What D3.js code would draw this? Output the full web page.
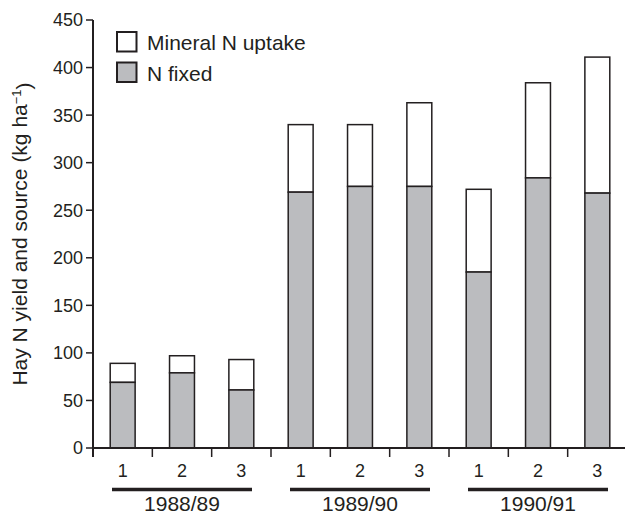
<!DOCTYPE html>
<html lang="en">
<head>
<meta charset="utf-8">
<title>Hay N yield and source</title>
<script src="https://d3js.org/d3.v7.min.js"></script>
<style>
body { margin: 0; background: #fff; }
svg { display: block; font-family: "Liberation Sans", Arial, Helvetica, sans-serif; }
.tick-lbl { font-size: 18px; fill: #231f20; }
.big { font-size: 21px; fill: #231f20; }
</style>
</head>
<body>
<div id="chart"></div>
<script>
var years = ["1988/89", "1989/90", "1990/91"];
var cuts = ["1", "2", "3"];
var nFixed = [69, 79, 61, 269, 275, 275, 185, 284, 268];
var mineral = [20, 18, 32, 71, 65, 88, 87, 100, 143];
var yTicks = [0, 50, 100, 150, 200, 250, 300, 350, 400, 450];

var width = 625, height = 515;
var ink = "#231f20", grey = "#bbbcbf";

// one entry per bar: year + cut
var bars = [];
years.forEach(function(yr, g){
    cuts.forEach(function(c, k){
        var i = g*3 + k;
        bars.push({i:i, year:yr, cut:c, fixed:nFixed[i], total:nFixed[i]+mineral[i]});
    });
});

var svg = d3.select("#chart").append("svg").attr("width", width).attr("height", height);

var x = d3.scaleBand().domain(bars.map(function(d){ return d.i; }))
    .range([93, 627]).paddingInner(0.58).paddingOuter(0.29);
var y = d3.scaleLinear().domain([0, 450]).range([448, 20]);

// stacked bars
var g = svg.append("g");
g.selectAll(".top").data(bars).enter().append("rect")
    .attr("x", function(d){ return x(d.i); })
    .attr("width", x.bandwidth())
    .attr("y", function(d){ return y(d.total); })
    .attr("height", function(d){ return y(d.fixed) - y(d.total); })
    .attr("fill", "#fff").attr("stroke", ink).attr("stroke-width", 1.5);
g.selectAll(".fix").data(bars).enter().append("rect")
    .attr("x", function(d){ return x(d.i); })
    .attr("width", x.bandwidth())
    .attr("y", function(d){ return y(d.fixed); })
    .attr("height", function(d){ return y(0) - y(d.fixed); })
    .attr("fill", grey).attr("stroke", ink).attr("stroke-width", 1.5);

// y axis
var yAxis = svg.append("g");
yAxis.append("line").attr("x1", x.range()[0]).attr("x2", x.range()[0])
    .attr("y1", y(450)).attr("y2", y(0) + 9).attr("stroke", ink).attr("stroke-width", 2);
yAxis.selectAll(".yt").data(yTicks).enter().append("line")
    .attr("x1", x.range()[0] - 7).attr("x2", x.range()[0])
    .attr("y1", function(d){ return y(d); }).attr("y2", function(d){ return y(d); })
    .attr("stroke", ink).attr("stroke-width", 1.5);
yAxis.selectAll(".yl").data(yTicks).enter().append("text").attr("class", "tick-lbl")
    .attr("x", x.range()[0] - 10).attr("y", function(d){ return y(d); })
    .attr("dy", "0.36em").attr("text-anchor", "end").text(function(d){ return d; });

// x axis
var xAxis = svg.append("g");
xAxis.append("line").attr("x1", x.range()[0]).attr("x2", width)
    .attr("y1", y(0)).attr("y2", y(0)).attr("stroke", ink).attr("stroke-width", 2);
xAxis.selectAll(".xt").data(bars.slice(1)).enter().append("line")
    .attr("x1", function(d){ return x(d.i) - x.step()*x.paddingInner()/2; })
    .attr("x2", function(d){ return x(d.i) - x.step()*x.paddingInner()/2; })
    .attr("y1", y(0)).attr("y2", y(0) + 9)
    .attr("stroke", ink).attr("stroke-width", 1.5);
xAxis.selectAll(".xl").data(bars).enter().append("text").attr("class", "tick-lbl")
    .attr("x", function(d){ return x(d.i) + x.bandwidth()/2; })
    .attr("y", 477).attr("text-anchor", "middle").text(function(d){ return d.cut; });

// year groups: underline + label
years.forEach(function(yr, gi){
    var mid = x(gi*3 + 1) + x.bandwidth()/2;
    svg.append("line").attr("x1", mid - 70).attr("x2", mid + 70)
        .attr("y1", 489.5).attr("y2", 489.5).attr("stroke", ink).attr("stroke-width", 3.5);
    svg.append("text").attr("class", "big").attr("x", mid).attr("y", 511)
        .attr("text-anchor", "middle").text(yr);
});

// y title
var title = svg.append("text").attr("class", "big")
    .attr("transform", "translate(27," + ((y(0) + y(450))/2) + ") rotate(-90)")
    .attr("text-anchor", "middle");
title.append("tspan").text("Hay N yield and source (kg ha");
title.append("tspan").attr("dy", "-0.45em").attr("font-size", "13px").text("\u22121");
title.append("tspan").attr("dy", "0.45em").text(")");

// legend
var legend = [{name:"Mineral N uptake", fill:"#fff"}, {name:"N fixed", fill:grey}];
var lg = svg.append("g").selectAll("g").data(legend).enter().append("g")
    .attr("transform", function(d, i){ return "translate(117," + (32 + i*30.5) + ")"; });
lg.append("rect").attr("width", 19.5).attr("height", 19.5)
    .attr("fill", function(d){ return d.fill; }).attr("stroke", ink).attr("stroke-width", 2);
lg.append("text").attr("class", "big").attr("x", 30).attr("y", 18)
    .text(function(d){ return d.name; });
</script>
</body>
</html>
